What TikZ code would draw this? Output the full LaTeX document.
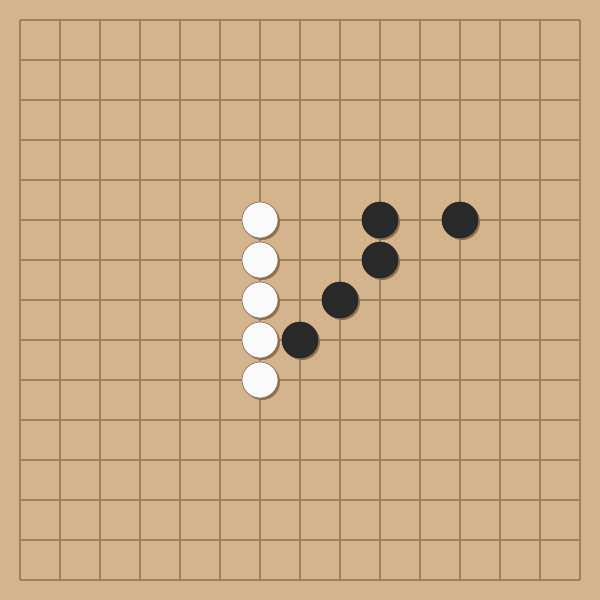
\documentclass[tikz,border=0pt]{standalone}
\definecolor{boardbg}{RGB}{212,180,140}
\definecolor{gridc}{RGB}{160,128,92}
\definecolor{shadowc}{RGB}{140,112,80}
\definecolor{whitest}{RGB}{250,250,250}
\definecolor{blackst}{RGB}{42,42,42}
\definecolor{wedge}{RGB}{130,100,70}
\begin{document}
\begin{tikzpicture}[x=1pt,y=-1pt,
  gridline/.style={draw=gridc,line width=1.2pt},
  shadowst/.style={fill=shadowc,draw=none},
  wstone/.style={fill=whitest,draw=wedge,line width=0.6pt},
  bstone/.style={fill=blackst,draw=blackst!80!black,line width=0.6pt}]
\useasboundingbox (0,0) rectangle (600,600);
\fill[boardbg] (0,0) rectangle (600,600);
\foreach \i in {0,...,14}{
  \draw[gridline] (20+40*\i,20) -- (20+40*\i,580);
  \draw[gridline] (20,20+40*\i) -- (580,20+40*\i);
}
\foreach \c/\r [count=\n] in {6/5,6/6,6/7,6/8,6/9}{
  \fill[shadowst] (20+40*\c+2,20+40*\r+2) circle (18);
  \node[circle,wstone,minimum size=36pt,inner sep=0pt] (w\n) at (20+40*\c,20+40*\r) {};
}
\foreach \c/\r [count=\n] in {9/5,11/5,9/6,8/7,7/8}{
  \fill[shadowst] (20+40*\c+2,20+40*\r+2) circle (18);
  \node[circle,bstone,minimum size=36pt,inner sep=0pt] (b\n) at (20+40*\c,20+40*\r) {};
}
\end{tikzpicture}
\end{document}
